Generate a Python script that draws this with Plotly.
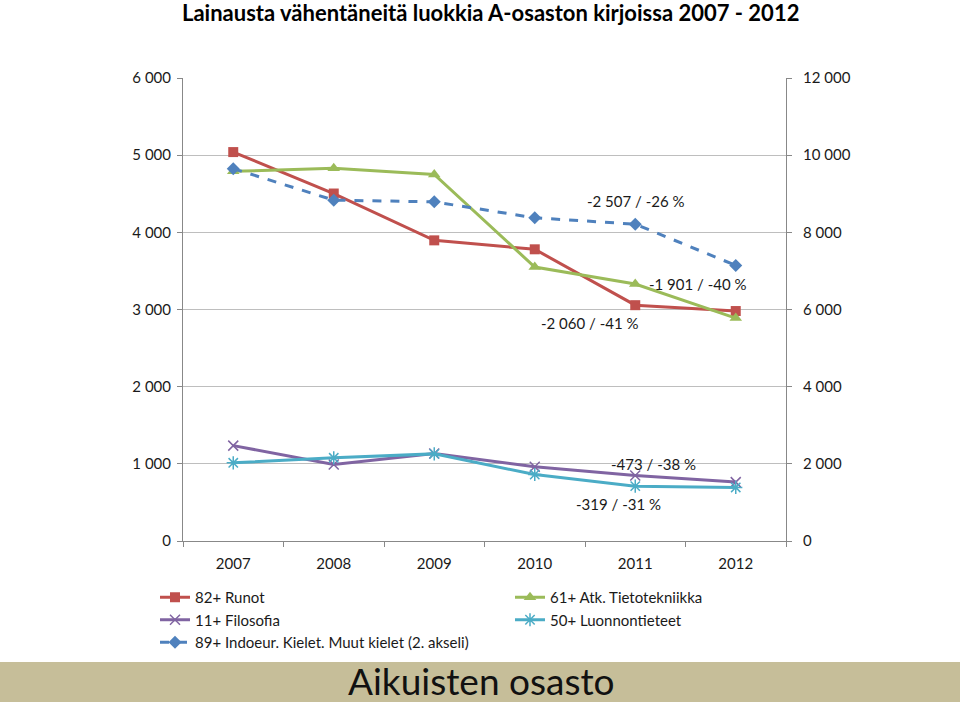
import plotly.graph_objects as go

years = ["2007", "2008", "2009", "2010", "2011", "2012"]
runot = [5040, 4503, 3896, 3780, 3056, 2980]
atk = [4790, 4830, 4750, 3550, 3330, 2889]
filosofia = [1236, 991, 1134, 961, 849, 763]
luonnon = [1013, 1078, 1129, 862, 711, 694]
indoeur = [9650, 8834, 8790, 8376, 8212, 7143]

labels_left = ["-2 060 / -41 %", "-1 901 / -40 %", "-473 / -38 %", "-319 / -31 %"]
label_right = "-2 507 / -26 %"

FONT = "Lato"
W, H = 960, 702
L, R, T, B = 183, 174, 78, 161
PH = H - T - B
PW = W - L - R

def py(px):
    return (H - B - px) / PH

def pxx(px):
    return (px - L) / PW

fig = go.Figure()
fig.add_trace(go.Scatter(x=years, y=runot, name="82+ Runot", mode="lines+markers",
                         line=dict(color="#C0504D", width=3),
                         marker=dict(symbol="square", size=10, color="#C0504D")))
fig.add_trace(go.Scatter(x=years, y=atk, name="61+ Atk. Tietotekniikka", mode="lines+markers",
                         line=dict(color="#9BBB59", width=3),
                         marker=dict(symbol="triangle-up", size=11, color="#9BBB59")))
fig.add_trace(go.Scatter(x=years, y=filosofia, name="11+ Filosofia", mode="lines+markers",
                         line=dict(color="#8064A2", width=3),
                         marker=dict(symbol="x-thin", size=10, line=dict(color="#8064A2", width=1.5))))
fig.add_trace(go.Scatter(x=years, y=luonnon, name="50+ Luonnontieteet", mode="lines+markers",
                         line=dict(color="#4BACC6", width=3),
                         marker=dict(symbol="asterisk", size=11, line=dict(color="#4BACC6", width=1.5))))
fig.add_trace(go.Scatter(x=years, y=indoeur, name="89+ Indoeur. Kielet. Muut kielet (2. akseli)",
                         mode="lines+markers", yaxis="y2",
                         line=dict(color="#4F81BD", width=3, dash="dash"),
                         marker=dict(symbol="diamond", size=10, color="#4F81BD")))

afont = dict(size=15, color="#1a1a1a", family=FONT)
ann = []
ann.append(dict(x=4, y=8812, yref="y2", xref="x", text=label_right, showarrow=False,
                xshift=1, font=afont))
ann.append(dict(x=4, y=2825, yref="y", xref="x", text=labels_left[0], showarrow=False,
                xshift=-45, font=afont))
ann.append(dict(x=4, y=3330, yref="y", xref="x", text=labels_left[1], showarrow=False,
                xshift=63, font=afont))
ann.append(dict(x=4, y=998, yref="y", xref="x", text=labels_left[2], showarrow=False,
                xshift=18, font=afont))
ann.append(dict(x=4, y=479, yref="y", xref="x", text=labels_left[3], showarrow=False,
                xshift=-17, font=afont))
ann.append(dict(x=pxx(490), y=py(12), xref="paper", yref="paper", yanchor="middle",
                text="<b>Lainausta vähentäneitä luokkia A-osaston kirjoissa 2007 - 2012</b>",
                showarrow=False, font=dict(size=22, color="#000000", family=FONT)))
ann.append(dict(x=pxx(481), y=py(680), xref="paper", yref="paper", yanchor="middle",
                text="Aikuisten osasto",
                showarrow=False, font=dict(size=37, color="#111111", family=FONT)))

fig.update_layout(
    width=W, height=H,
    margin=dict(l=L, r=R, t=T, b=B, autoexpand=False),
    paper_bgcolor="white", plot_bgcolor="white",
    separators=", ",
    font=dict(family=FONT, size=15, color="#1a1a1a"),
    showlegend=True,
    legend=dict(orientation="h", x=pxx(155), y=py(581), xanchor="left", yanchor="top",
                entrywidth=310, font=dict(size=15, family=FONT), bgcolor="rgba(0,0,0,0)",
                traceorder="normal"),
    xaxis=dict(type="category", range=[-0.5, 5.5], showgrid=False, showline=True,
               linecolor="#888888", linewidth=1, ticks="outside", tickson="boundaries",
               ticklen=5, tickcolor="#888888", tickfont=dict(size=15), zeroline=False,
               ticklabelstandoff=9),
    yaxis=dict(range=[0, 6000], dtick=1000, tickformat=",d", showgrid=True, gridcolor="#BEBEBE",
               gridwidth=1, showline=True, linecolor="#888888", ticks="outside", ticklen=5,
               tickcolor="#888888", zeroline=False, tickfont=dict(size=15),
               ticklabelstandoff=3),
    yaxis2=dict(range=[0, 12000], dtick=2000, tickformat=",d", overlaying="y", side="right",
                showgrid=False, showline=True, linecolor="#888888", ticks="outside", ticklen=5,
                tickcolor="#888888", zeroline=False, tickfont=dict(size=15),
                ticklabelstandoff=8),
    annotations=ann,
    shapes=[dict(type="rect", xref="paper", yref="paper", x0=pxx(0), x1=pxx(960),
                 y0=py(702), y1=py(662), fillcolor="#C6BE99", line=dict(width=0), layer="below")],
)

fig.write_html("out.html", config={"displayModeBar": False},
               post_script="document.body.style.margin='0';document.body.style.overflow='hidden';")
